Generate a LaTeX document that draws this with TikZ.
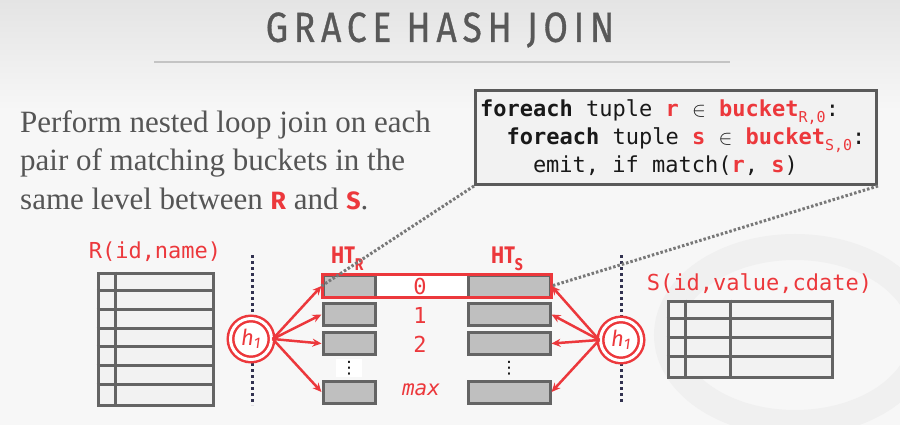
\documentclass[tikz,border=0pt]{standalone}
\usepackage{fontspec}
\setmainfont{Liberation Serif}
\setsansfont{Fira Sans}
\setmonofont{DejaVu Sans Mono}
\newfontfamily\titlefont{Fira Sans}[FakeStretch=0.84,LetterSpace=14,FakeBold=0.8]
\newfontfamily\lblfont{Fira Sans}[FakeStretch=0.82]
\newfontfamily\symfont{DejaVu Sans}
\usetikzlibrary{arrows.meta,calc}
\definecolor{myred}{RGB}{236,56,60}
\definecolor{txtgrey}{RGB}{85,85,85}
\definecolor{titlegrey}{RGB}{88,88,88}
\definecolor{bgc}{RGB}{247,247,247}
\definecolor{bgtop}{RGB}{228,228,228}
\definecolor{codebg}{RGB}{242,242,242}
\definecolor{boxborder}{RGB}{90,90,90}
\definecolor{tabborder}{RGB}{100,100,100}
\definecolor{tabfill}{RGB}{242,242,242}
\definecolor{htfill}{RGB}{191,191,191}
\definecolor{navy}{RGB}{50,50,80}
\definecolor{dotgrey}{RGB}{120,120,120}
\definecolor{swirl}{RGB}{240,240,240}
\tikzset{
  htbox/.style={draw=tabborder, fill=htfill, line width=3pt, inner sep=0pt, minimum height=22pt},
  hashc/.style={circle, draw=myred, line width=2.5pt, double=white, double distance=3pt, fill=white, minimum size=41pt, inner sep=0pt, font=\sffamily\itshape\fontsize{22}{22}\selectfont, text=myred},
  arr/.style={draw=myred, line width=2.5pt, -{Stealth[length=9pt,width=8pt]}},
  vdot/.style={draw=navy, line width=3pt, dash pattern=on 3pt off 3pt},
  gdot/.style={draw=dotgrey, line width=3pt, dash pattern=on 2.5pt off 2pt},
  codeline/.style={anchor=base west, inner sep=0pt, font=\ttfamily\fontsize{22}{22}\selectfont, text=black!90},
  monolbl/.style={font=\ttfamily\fontsize{22}{22}\selectfont, text=myred, inner sep=0pt},
  bodyline/.style={anchor=base west, inner sep=0pt, font=\fontsize{31}{31}\selectfont, text=txtgrey},
  tab/.style={draw=tabborder, fill=tabfill, line width=3pt, inner sep=0pt},
  tabline/.style={draw=tabborder, line width=3pt},
  htlbl/.style={anchor=base west, inner sep=0pt, text=myred, font=\lblfont\bfseries\fontsize{24}{24}\selectfont},
  vdots/.style={inner sep=0pt, font=\symfont\fontsize{17}{17}\selectfont, text=black},
}
\newcommand{\rd}[1]{{\color{myred}\bfseries #1}}
\newcommand{\sbs}[1]{\raisebox{-6pt}{\color{myred}\mdseries\fontsize{15}{15}\selectfont #1}}
\newcommand{\bodyrs}[1]{{\sffamily\bfseries\fontsize{25}{25}\selectfont\color{myred}#1}}
\begin{document}
\begin{tikzpicture}[x=1pt,y=-1pt]
\useasboundingbox (0,0) rectangle (900,425);
\fill[bgc] (0,0) rectangle (900,425);
\shade[top color=bgtop, bottom color=bgc] (0,0) rectangle (900,110);
% faint logo swirl
\draw[swirl, line width=26pt] (795,335) ellipse [x radius=128, y radius=88];
% title
\node[font=\titlefont\fontsize{42}{42}\selectfont, text=titlegrey, inner sep=0pt] (title) at (440,30) {GRACE HASH JOIN};
\draw[draw=black!23, line width=2pt] (154,62) -- (730,62);
% body text
\node[bodyline] (b1) at (20,133) {Perform nested loop join on each};
\node[bodyline] (b2) at (20,171) {pair of matching buckets in the};
\node[bodyline] (b3) at (20,209) {same level between \bodyrs{R} and \bodyrs{S}.};
% code box
\node[draw=boxborder, fill=codebg, line width=3pt, minimum width=401pt, minimum height=94pt, inner sep=0pt] (code) at (676,137.5) {};
\node[codeline] (c1) at (480,117) {\textbf{foreach} tuple \rd{r} $\in$ \rd{bucket}\sbs{R,0}:};
\node[codeline] (c2) at (506.4,145) {\textbf{foreach} tuple \rd{s} $\in$ \rd{bucket}\sbs{S,0}:};
\node[codeline] (c3) at (532.8,172) {emit, if match(\rd{r}, \rd{s})};
% R table
\node[tab, minimum width=115pt, minimum height=132pt] (rtab) at (155.5,339) {};
\foreach \k in {1,...,6} \draw[tabline] ($(rtab.north west)+(0,132*\k/7)$) -- ($(rtab.north east)+(0,132*\k/7)$);
\draw[tabline] ($(rtab.north west)+(19,0)$) -- ($(rtab.south west)+(19,0)$);
\node[monolbl] (rlbl) at (155,252) {R(id,name)};
% S table
\node[tab, minimum width=164pt, minimum height=76pt] (stab) at (750,339) {};
\foreach \k in {1,2,3} \draw[tabline] ($(stab.north west)+(0,19*\k)$) -- ($(stab.north east)+(0,19*\k)$);
\draw[tabline] ($(stab.north west)+(19,0)$) -- ($(stab.south west)+(19,0)$);
\draw[tabline] ($(stab.north west)+(64,0)$) -- ($(stab.south west)+(64,0)$);
\node[monolbl] (slbl) at (759.5,284) {S(id,value,cdate)};
% dotted separators
\coordinate (vl1) at (252,255); \coordinate (vl2) at (252,405);
\coordinate (vr1) at (621,255); \coordinate (vr2) at (621,404);
\draw[vdot] (vl1) -- (vl2);
\draw[vdot] (vr1) -- (vr2);
% highlight row 0
\node[fill=white, inner sep=0pt, minimum width=228pt, minimum height=23pt] (hl) at (437,286) {};
% HT boxes
\node[htbox, minimum width=52pt] (r0) at (349,286) {};
\node[htbox, minimum width=52pt] (r1) at (349,314.5) {};
\node[htbox, minimum width=52pt] (r2) at (349,343.5) {};
\node[htbox, minimum width=52pt] (rm) at (349,392) {};
\node[htbox, minimum width=82pt] (s0) at (509,286) {};
\node[htbox, minimum width=82pt] (s1) at (509,314.5) {};
\node[htbox, minimum width=82pt] (s2) at (509,343.5) {};
\node[htbox, minimum width=82pt] (sm) at (509,392) {};
\draw[myred, line width=3pt] (hl.north west) rectangle (hl.south east);
% dots
\fill[white] (336,359) rectangle (362,377);
\node[vdots] (rdots) at (349,368) {⋮};
\node[vdots] (sdots) at (509,368) {⋮};
% bucket numbers
\node[monolbl] (n0) at (420,286) {0};
\node[monolbl] (n1) at (420,315) {1};
\node[monolbl] (n2) at (420,344) {2};
\node[monolbl, font=\ttfamily\itshape\fontsize{21}{21}\selectfont] (nm) at (421,390) {max};
% HT labels
\node[htlbl] (htr) at (331,263) {HT\raisebox{-7pt}{\fontsize{17}{17}\selectfont R}};
\node[htlbl] (hts) at (491,263) {HT\raisebox{-7pt}{\fontsize{17}{17}\selectfont S}};
% dotted connectors from code box
\draw[gdot] (code.south west) -- (r0.west);
\draw[gdot] (code.south east) -- (s0.east);
% hash functions
\node[hashc] (hL) at (251,339) {h\textsubscript{1}};
\node[hashc] (hR) at (621,340) {h\textsubscript{1}};
% arrows
\foreach \b in {r0,r1,r2,rm} \draw[arr] (hL.east) -- (\b.west);
\foreach \b in {s0,s1,s2,sm} \draw[arr] (hR.west) -- (\b.east);
\end{tikzpicture}
\end{document}
